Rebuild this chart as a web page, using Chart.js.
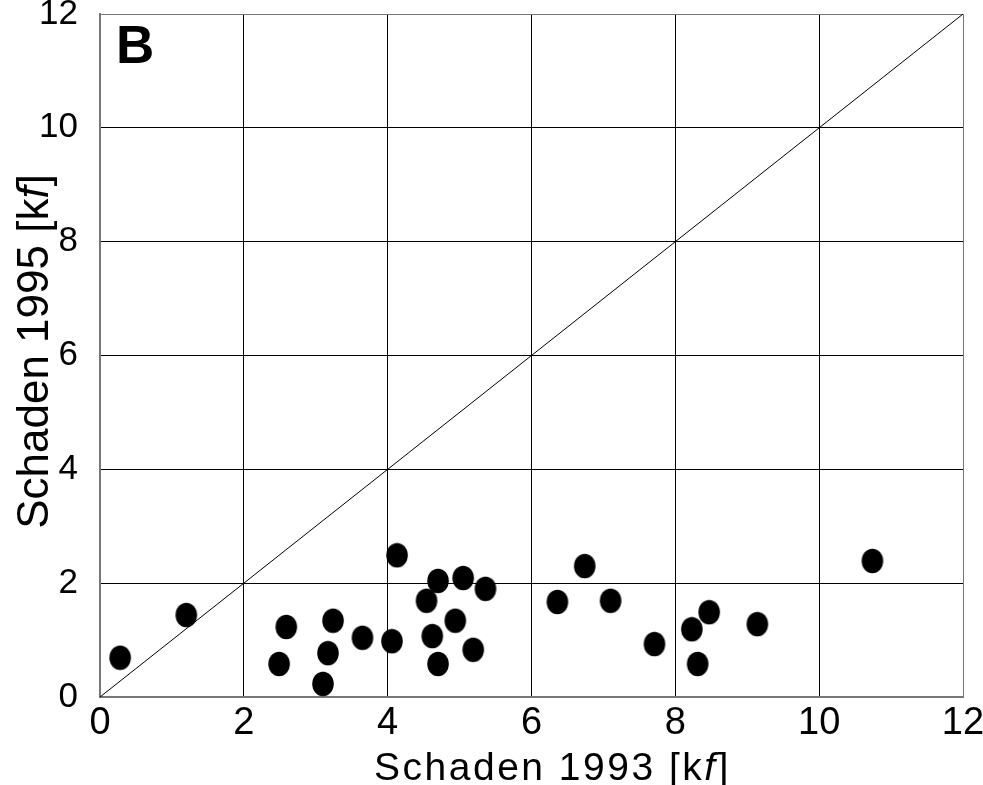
<!DOCTYPE html>
<html>
<head>
<meta charset="utf-8">
<script src="https://cdn.jsdelivr.net/npm/chart.js@4/dist/chart.umd.min.js"></script>
<style>
  html, body { margin: 0; padding: 0; background: #fff; }
  #wrap { width: 983px; height: 785px; }
</style>
</head>
<body>
<div id="wrap"><canvas id="scatterChart"></canvas></div>
<script>
// damage per site, 1993 vs 1995 (kf)
const damage1993 = [0.28, 1.20, 2.49, 2.59, 3.10, 3.17, 3.24, 3.65, 4.06, 4.13, 4.54, 4.62, 4.70, 4.70,
  4.94, 5.05, 5.19, 5.36, 6.36, 6.74, 7.10, 7.71, 8.23, 8.31, 8.47, 9.14, 10.74];
const damage1995 = [0.69, 1.44, 0.58, 1.23, 0.23, 0.77, 1.34, 1.04, 0.98, 2.49, 1.69, 1.07, 0.58, 2.04,
  1.34, 2.09, 0.83, 1.90, 1.67, 2.30, 1.69, 0.93, 1.19, 0.58, 1.49, 1.28, 2.39];
// 1:1 reference line
const diagX = [0, 12];
const diagY = [0, 12];
const axisMin = 0;
const axisMax = 12;
const axisStep = 2;

const FONT = "'Liberation Sans', Arial, sans-serif";

// slightly tall blob marker
const dot = document.createElement("canvas");
dot.width = 24;
dot.height = 26;
const dctx = dot.getContext("2d");
dctx.fillStyle = "#000";
dctx.beginPath();
dctx.ellipse(12, 13, 10.8, 12.2, 0, 0, Math.PI * 2);
dctx.fill();

const points = damage1993.map((x, i) => ({ x: x, y: damage1995[i] }));
const diag = diagX.map((x, i) => ({ x: x, y: diagY[i] }));

const gridColor = (ctx) =>
  ctx.tick && (ctx.tick.value === axisMin || ctx.tick.value === axisMax) ? "#777" : "#000";

// axis titles with italic f and the panel letter
const annotations = {
  id: "annotations",
  afterDraw(chart) {
    const ctx = chart.ctx;
    const area = chart.chartArea;
    ctx.save();
    ctx.fillStyle = "#000";
    ctx.textBaseline = "alphabetic";
    ctx.textAlign = "left";

    const drawParts = (parts, x, y, spacing) => {
      ctx.letterSpacing = spacing + "px";
      let w = 0;
      parts.forEach((p) => { ctx.font = p.font; w += ctx.measureText(p.text).width; });
      let cx = x - w / 2;
      parts.forEach((p) => {
        ctx.font = p.font;
        ctx.fillText(p.text, cx, y);
        cx += ctx.measureText(p.text).width;
      });
    };

    // x title
    const xf = "39px " + FONT;
    drawParts([
      { text: "Schaden 1993 [k", font: xf },
      { text: "f", font: "italic " + xf },
      { text: "]", font: xf }
    ], (area.left + area.right) / 2 + 21, 780, 2.5);

    // y title
    ctx.save();
    ctx.translate(48, (area.top + area.bottom) / 2 - 4);
    ctx.rotate(-Math.PI / 2);
    const yf = "44px " + FONT;
    drawParts([
      { text: "Schaden 1995 [k", font: yf },
      { text: "f", font: "italic " + yf },
      { text: "]", font: yf }
    ], 0, 0, 0);
    ctx.restore();

    // panel letter
    ctx.letterSpacing = "0px";
    ctx.font = "bold 53px " + FONT;
    ctx.fillText("B", area.left + 16, area.top + 49);
    ctx.restore();
  }
};

const config = {
  type: "scatter",
  data: {
    datasets: [
      {
        label: "1:1",
        type: "line",
        data: diag,
        borderColor: "#000",
        borderWidth: 1,
        pointRadius: 0,
        fill: false,
        tension: 0,
        order: 2
      },
      {
        label: "Schaden",
        data: points,
        pointStyle: dot,
        pointRadius: 12,
        backgroundColor: "#000",
        borderWidth: 0,
        order: 1
      }
    ]
  },
  options: {
    responsive: true,
    maintainAspectRatio: false,
    animation: false,
    layout: { padding: { top: 14, right: 20, left: 0, bottom: 0 } },
    plugins: {
      legend: { display: false },
      tooltip: { enabled: false }
    },
    scales: {
      x: {
        type: "linear",
        min: axisMin,
        max: axisMax,
        ticks: {
          stepSize: axisStep,
          color: "#000",
          font: { family: FONT, size: 38 },
          padding: 4,
          maxRotation: 0
        },
        grid: { color: gridColor, lineWidth: 1, drawTicks: false },
        border: { color: "#777", width: 2 },
        afterFit(scale) {
          scale.height = 88;
          scale.paddingLeft = 0;
          scale.paddingRight = 0;
        }
      },
      y: {
        type: "linear",
        min: axisMin,
        max: axisMax,
        ticks: {
          stepSize: axisStep,
          color: "#000",
          font: { family: FONT, size: 35 },
          padding: 22
        },
        grid: { color: gridColor, lineWidth: 1, drawTicks: false },
        border: { color: "#777", width: 2 },
        afterFit(scale) {
          scale.width = 100;
          scale.paddingTop = 0;
          scale.paddingBottom = 0;
        }
      }
    }
  },
  plugins: [annotations]
};

const chart = new Chart(document.getElementById("scatterChart"), config);
</script>
</body>
</html>
